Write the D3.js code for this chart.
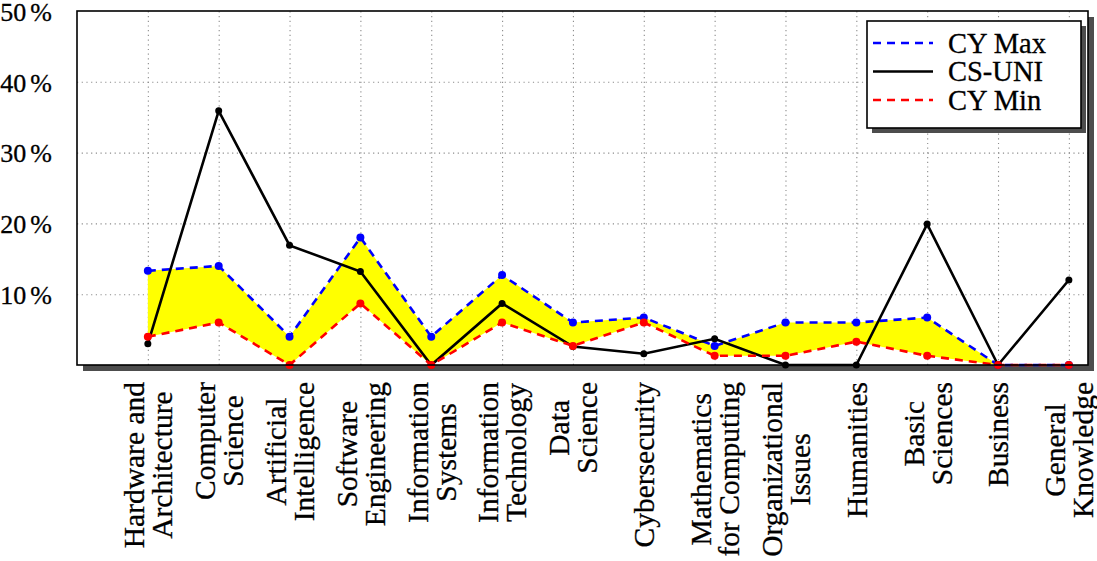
<!DOCTYPE html>
<html>
<head>
<meta charset="utf-8">
<script src="https://cdn.jsdelivr.net/npm/d3@7"></script>
<style>
  body { margin: 0; background: #fff; }
  text { font-family: "Liberation Serif", "DejaVu Serif", serif; fill: #000; stroke: #000; stroke-width: 0.3; }
</style>
</head>
<body>
<div id="chart"></div>
<script>
// data
const categories = [
  ["Hardware and", "Architecture"],
  ["Computer", "Science"],
  ["Artificial", "Intelligence"],
  ["Software", "Engineering"],
  ["Information", "Systems"],
  ["Information", "Technology"],
  ["Data", "Science"],
  ["Cybersecurity"],
  ["Mathematics", "for Computing"],
  ["Organizational", "Issues"],
  ["Humanities"],
  ["Basic", "Sciences"],
  ["Business"],
  ["General", "Knowledge"]
];
const cyMax  = [13.3, 14.0, 4.0, 18.0, 4.0, 12.7, 6.0, 6.7, 2.7, 6.0, 6.0, 6.7, 0, 0];
const csUni  = [3.0, 35.9, 16.9, 13.2, 0, 8.7, 2.6, 1.6, 3.7, 0, 0, 19.9, 0, 12.0];
const cyMin  = [4.0, 6.0, 0, 8.7, 0, 6.0, 2.7, 6.0, 1.3, 1.3, 3.3, 1.3, 0, 0];
const yTicks = [10, 20, 30, 40, 50];
const legendNames = ["CY Max", "CS-UNI", "CY Min"];

const width = 1097, height = 561;
const margin = { left: 77, right: 9, top: 11, bottom: 196 };
const fontSize = 29.5;

const idx = d3.range(categories.length);

const xScale = d3.scaleLinear()
  .domain([-1, 13.27])
  .range([margin.left, width - margin.right]);

const yScale = d3.scaleLinear()
  .domain([0, 50])
  .range([height - margin.bottom, margin.top]);

const svg = d3.select("#chart")
  .append("svg")
  .attr("width", width)
  .attr("height", height);

const plotW = width - margin.right - margin.left;
const plotH = height - margin.bottom - margin.top;

// frame shadow + background
svg.append("rect")
  .attr("x", margin.left + 6)
  .attr("y", margin.top + 6)
  .attr("width", plotW)
  .attr("height", plotH)
  .attr("fill", "#4d4d4d");

svg.append("rect")
  .attr("x", margin.left)
  .attr("y", margin.top)
  .attr("width", plotW)
  .attr("height", plotH)
  .attr("fill", "#fff");

// grid
const xGrid = svg.append("g")
  .attr("transform", `translate(0, ${height - margin.bottom})`)
  .call(d3.axisBottom(xScale).tickValues(idx).tickSize(-plotH).tickFormat(""));
const yGrid = svg.append("g")
  .attr("transform", `translate(${margin.left}, 0)`)
  .call(d3.axisLeft(yScale).tickValues(yTicks.slice(0, 4)).tickSize(-plotW).tickFormat(""));
[xGrid, yGrid].forEach(g => {
  g.select(".domain").remove();
  g.selectAll("line")
    .attr("stroke", "#8c8c8c")
    .attr("stroke-width", 1.1)
    .attr("stroke-dasharray", "1.2,3.5");
});

// band between max and min
const area = d3.area()
  .x(i => xScale(i))
  .y0(i => yScale(cyMin[i]))
  .y1(i => yScale(cyMax[i]));

svg.append("path")
  .datum(idx)
  .attr("d", area)
  .attr("fill", "#ffff00");

const series = [
  { name: legendNames[0], values: cyMax, color: "#0000ff", dash: "8,6", r: 4 },
  { name: legendNames[1], values: csUni, color: "#000000", dash: null, r: 3.5 },
  { name: legendNames[2], values: cyMin, color: "#ff0000", dash: "8,6", r: 4 }
];

series.forEach(s => {
  const line = d3.line()
    .x(i => xScale(i))
    .y(i => yScale(s.values[i]));
  svg.append("path")
    .datum(idx)
    .attr("d", line)
    .attr("fill", "none")
    .attr("stroke", s.color)
    .attr("stroke-width", 2.6)
    .attr("stroke-dasharray", s.dash);
  svg.append("g")
    .selectAll("circle")
    .data(idx)
    .join("circle")
    .attr("cx", i => xScale(i))
    .attr("cy", i => yScale(s.values[i]))
    .attr("r", s.r)
    .attr("fill", s.color);
});

// frame
svg.append("rect")
  .attr("x", margin.left)
  .attr("y", margin.top)
  .attr("width", plotW)
  .attr("height", plotH)
  .attr("fill", "none")
  .attr("stroke", "#000")
  .attr("stroke-width", 1.6);

// y tick labels: number, small gap, percent sign
const yAxis = svg.append("g")
  .attr("transform", `translate(${margin.left}, 0)`)
  .call(d3.axisLeft(yScale).tickValues(yTicks).tickSize(0).tickPadding(25).tickFormat(""));
yAxis.select(".domain").remove();
yAxis.selectAll(".tick text")
  .attr("font-family", "Liberation Serif")
  .attr("font-size", 26)
  .attr("fill", "#000")
  .attr("dy", "0.36em")
  .each(function(d) {
    const t = d3.select(this);
    t.append("tspan").text(d);
    t.append("tspan").attr("dx", 4).text("%");
  });

// x labels, rotated, block hanging from the axis
const labelTop = height - margin.bottom + 17;
const lineGap = 28;
categories.forEach((lines, i) => {
  const g = svg.append("g")
    .attr("transform", `translate(${xScale(i)}, ${labelTop}) rotate(-90)`);
  const texts = lines.map((t, k) => g.append("text")
    .attr("y", (k - (lines.length - 1) / 2) * lineGap)
    .attr("dy", "0.35em")
    .attr("text-anchor", "middle")
    .attr("font-size", fontSize)
    .text(t));
  const w = d3.max(texts, t => t.node().getComputedTextLength());
  texts.forEach(t => t.attr("x", -w / 2));
});

// legend
const lg = svg.append("g").attr("transform", "translate(867, 21)");
lg.append("rect")
  .attr("x", 5).attr("y", 5)
  .attr("width", 214).attr("height", 107)
  .attr("fill", "#4d4d4d");
lg.append("rect")
  .attr("width", 214).attr("height", 107)
  .attr("fill", "#fff")
  .attr("stroke", "#000")
  .attr("stroke-width", 1.6);
series.forEach((s, k) => {
  const yy = 22 + k * 28.5;
  lg.append("line")
    .attr("x1", 6).attr("x2", 66)
    .attr("y1", yy).attr("y2", yy)
    .attr("stroke", s.color)
    .attr("stroke-width", 2.6)
    .attr("stroke-dasharray", s.dash);
  lg.append("text")
    .attr("x", 81)
    .attr("y", yy)
    .attr("dy", "0.35em")
    .attr("font-size", 28.5)
    .text(s.name);
});
</script>
</body>
</html>
